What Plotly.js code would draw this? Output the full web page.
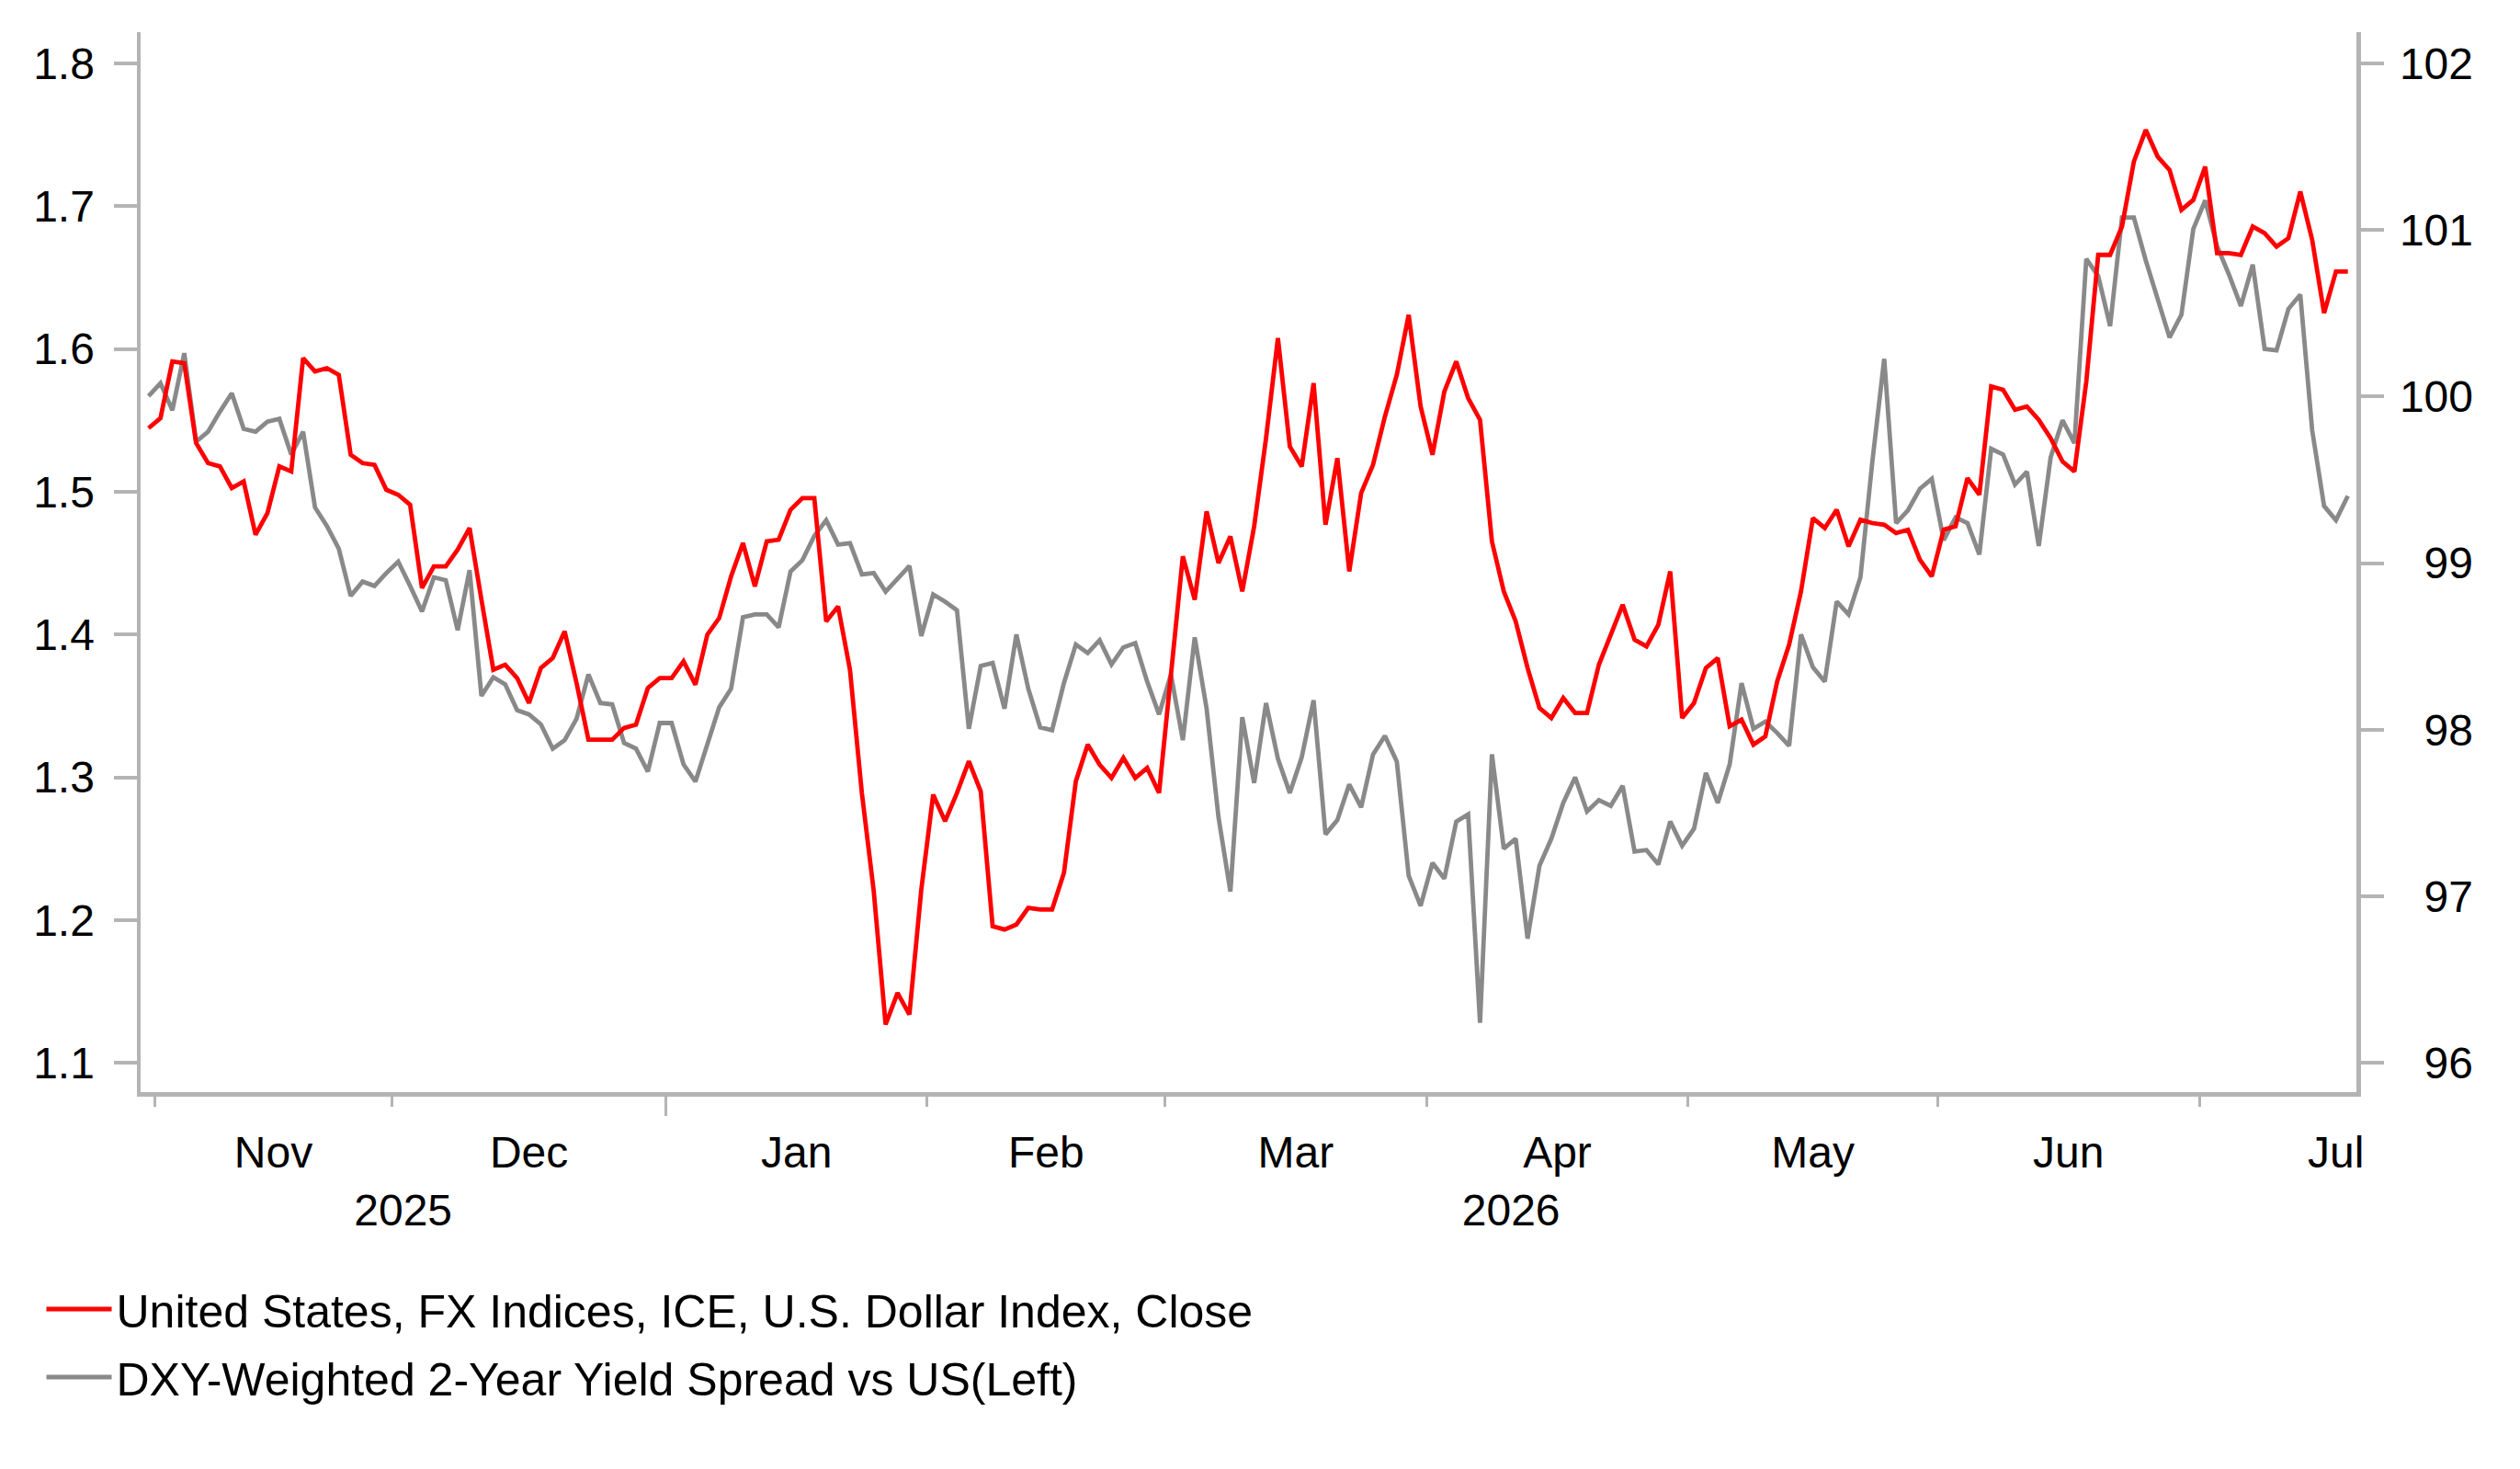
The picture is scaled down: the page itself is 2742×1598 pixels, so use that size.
<!DOCTYPE html>
<html>
<head>
<meta charset="utf-8">
<script src="https://cdn.plot.ly/plotly-3.0.1.min.js"></script>
<style>
html,body{margin:0;padding:0;background:#ffffff;}
#chart{width:2742px;height:1598px;}
</style>
</head>
<body>
<div id="chart"></div>
<script>
// ---------------- DATA ----------------
const startDate = '2025-10-31'; // first trading day shown (weekday series)

const seriesNames = [
  'United States, FX Indices, ICE, U.S. Dollar Index, Close',
  'DXY-Weighted 2-Year Yield Spread vs US(Left)'
];

// ICE U.S. Dollar Index close (right axis)
const dxyClose = [
  99.81, 99.87, 100.21, 100.20, 99.72, 99.60, 99.58, 99.45, 99.49, 99.17,
  99.30, 99.58, 99.55, 100.23, 100.15, 100.17, 100.13, 99.65, 99.60, 99.59,
  99.44, 99.41, 99.35, 98.85, 98.98, 98.98, 99.08,
  99.21, 98.78, 98.36, 98.39, 98.31, 98.16, 98.37, 98.43, 98.59, 98.28,
  97.94, 97.94, 97.94, 98.01, 98.03, 98.25, 98.31, 98.31, 98.41, 98.27,
  98.57, 98.67, 98.92, 99.12, 98.86, 99.13, 99.14,
  99.32, 99.39, 99.39, 98.65, 98.74, 98.36, 97.62, 97.03, 96.23, 96.42,
  96.29, 97.04, 97.61, 97.45, 97.62, 97.81, 97.63, 96.82, 96.80, 96.83,
  96.93, 96.92, 96.92, 97.14, 97.69, 97.91, 97.79,
  97.71, 97.83, 97.71, 97.77, 97.62, 98.33, 99.04, 98.78, 99.31, 99.00,
  99.16, 98.83, 99.22, 99.75, 100.35, 99.70, 99.58, 100.08, 99.23, 99.63,
  98.95, 99.42, 99.59, 99.88, 100.13, 100.49, 99.94,
  99.65, 100.03, 100.21, 99.99, 99.86, 99.13, 98.83, 98.65, 98.37, 98.13,
  98.07, 98.19, 98.10, 98.10, 98.39, 98.57, 98.75, 98.54, 98.50, 98.63,
  98.95, 98.07, 98.16, 98.37, 98.43, 98.02, 98.06,
  97.91, 97.96, 98.29, 98.51, 98.83, 99.27, 99.21, 99.32, 99.10, 99.26,
  99.24, 99.23, 99.18, 99.20, 99.02, 98.92, 99.20, 99.22, 99.51, 99.41,
  100.06, 100.04, 99.92, 99.94, 99.86, 99.75, 99.61,
  99.55, 100.09, 100.85, 100.85, 101.02, 101.41, 101.60, 101.44, 101.36, 101.12,
  101.18, 101.38, 100.86, 100.86, 100.85, 101.02, 100.98, 100.90, 100.95, 101.23,
  100.94, 100.50, 100.75, 100.75
];

// DXY-weighted 2-year yield spread vs US (left axis)
const yieldSpread = [
  1.567, 1.576, 1.557, 1.597, 1.535, 1.542, 1.556, 1.569, 1.544, 1.542,
  1.549, 1.551, 1.526, 1.542, 1.489, 1.476, 1.460, 1.427, 1.437, 1.434,
  1.443, 1.451, 1.434, 1.416, 1.440, 1.438, 1.403,
  1.445, 1.357, 1.370, 1.365, 1.347, 1.344, 1.337, 1.320, 1.326, 1.341,
  1.372, 1.352, 1.351, 1.324, 1.320, 1.304, 1.338, 1.338, 1.309, 1.297,
  1.323, 1.349, 1.362, 1.412, 1.414, 1.414, 1.405,
  1.444, 1.452, 1.469, 1.480, 1.463, 1.464, 1.442, 1.443, 1.430, 1.439,
  1.448, 1.399, 1.428, 1.423, 1.417, 1.334, 1.378, 1.380, 1.348, 1.400,
  1.362, 1.335, 1.333, 1.366, 1.393, 1.387, 1.396,
  1.379, 1.391, 1.394, 1.367, 1.344, 1.372, 1.326, 1.398, 1.348, 1.272,
  1.220, 1.342, 1.296, 1.352, 1.313, 1.289, 1.314, 1.354, 1.260, 1.270,
  1.295, 1.279, 1.316, 1.329, 1.311, 1.231, 1.210,
  1.240, 1.229, 1.269, 1.274, 1.128, 1.316, 1.250, 1.257, 1.187, 1.238,
  1.257, 1.282, 1.300, 1.276, 1.284, 1.280, 1.294, 1.248, 1.249, 1.239,
  1.269, 1.252, 1.264, 1.303, 1.282, 1.309, 1.366,
  1.334, 1.339, 1.331, 1.322, 1.400, 1.377, 1.367, 1.423, 1.414, 1.440,
  1.521, 1.593, 1.478, 1.487, 1.502, 1.509, 1.466, 1.482, 1.478, 1.456,
  1.530, 1.526, 1.505, 1.514, 1.462, 1.524, 1.550,
  1.534, 1.663, 1.651, 1.616, 1.692, 1.692, 1.662, 1.635, 1.608, 1.624,
  1.684, 1.704, 1.672, 1.652, 1.630, 1.659, 1.600, 1.599, 1.628, 1.638,
  1.543, 1.490, 1.480, 1.497
];

const leftTicks = [1.1, 1.2, 1.3, 1.4, 1.5, 1.6, 1.7, 1.8];
const rightTicks = [96, 97, 98, 99, 100, 101, 102];
const monthNames = ['Jan','Feb','Mar','Apr','May','Jun','Jul','Aug','Sep','Oct','Nov','Dec'];

// ---------------- DATE AXIS (trading-day positions) ----------------
function buildWeekdays(start, n) {
  const out = [];
  const d = new Date(start + 'T12:00:00Z');
  while (out.length < n) {
    const wd = d.getUTCDay();
    if (wd !== 0 && wd !== 6) out.push(new Date(d.getTime()));
    d.setUTCDate(d.getUTCDate() + 1);
  }
  return out;
}
function weekdaysInMonth(y, m) {
  let c = 0;
  const d = new Date(Date.UTC(y, m, 1, 12));
  while (d.getUTCMonth() === m) {
    const wd = d.getUTCDay();
    if (wd !== 0 && wd !== 6) c++;
    d.setUTCDate(d.getUTCDate() + 1);
  }
  return c;
}

const dates = buildWeekdays(startDate, yieldSpread.length);
const idx = dates.map((_, i) => i);
const dateText = dates.map(d => d.toISOString().slice(0, 10));

const xRange = [-0.67, dates.length - 1 + 0.72];

const monthTicks = [], monthMids = [], monthLabels = [], yearTicks = [];
for (let i = 1; i < dates.length; i++) {
  const m = dates[i].getUTCMonth(), mp = dates[i - 1].getUTCMonth();
  if (m !== mp) {
    const b = i - 0.5;
    monthTicks.push(b);
    monthMids.push(b + weekdaysInMonth(dates[i].getUTCFullYear(), m) / 2);
    monthLabels.push(monthNames[m]);
    if (m === 0) yearTicks.push(b);
  }
}
const yearEdges = [xRange[0]].concat(yearTicks, [xRange[1]]);
const yearMids = [], yearLabels = [];
for (let k = 0; k < yearEdges.length - 1; k++) {
  yearMids.push((yearEdges[k] + yearEdges[k + 1]) / 2);
  const firstIdx = Math.max(0, Math.ceil(yearEdges[k]));
  yearLabels.push(String(dates[Math.min(firstIdx, dates.length - 1)].getUTCFullYear()));
}

// ---------------- LAYOUT ----------------
const W = 2742, H = 1598;
const M = {l: 153, r: 20, t: 35, b: 410};
const plotRight = 2564;
const paperW = W - M.l - M.r;
const paperH = H - M.t - M.b;
const xDomEnd = (plotRight - M.l) / paperW;
const rightLabelEdge = 2694;

// left/right axes share pixel positions: 1.1 <-> 96, 1.8 <-> 102
const leftRange = [1.0795, 1.8218];
const toRight = v => 96 + (v - 1.1) * (6 / 0.7);
const rightRange = [toRight(leftRange[0]), toRight(leftRange[1])];

const FONT = 'Liberation Sans, Arial, Helvetica, sans-serif';
const AX = '#b4b4b4';
const tickFont = {family: FONT, size: 48, color: '#000000'};

const baseX = {
  domain: [0, xDomEnd], range: xRange, showgrid: false, zeroline: false, fixedrange: true
};

// helper (empty) traces so every overlay axis gets drawn
function axisHolder(xa, ya) {
  return {x: [idx[0]], y: [null], xaxis: xa, yaxis: ya, type: 'scatter', mode: 'lines',
          showlegend: false, hoverinfo: 'skip', legendgroup: 'zz'};
}

const traces = [
  {
    x: idx, y: dxyClose, customdata: dateText,
    name: seriesNames[0], type: 'scatter', mode: 'lines',
    xaxis: 'x', yaxis: 'y2', legendgroup: 'g1',
    line: {color: '#ff0000', width: 4.8},
    hovertemplate: '%{customdata}: %{y}<extra></extra>'
  },
  {
    x: idx, y: yieldSpread, customdata: dateText,
    name: seriesNames[1], type: 'scatter', mode: 'lines',
    xaxis: 'x', yaxis: 'y', legendgroup: 'g2',
    line: {color: '#898989', width: 4.8},
    hovertemplate: '%{customdata}: %{y}<extra></extra>'
  },
  axisHolder('x2', 'y'),
  axisHolder('x3', 'y'),
  axisHolder('x4', 'y'),
  axisHolder('x', 'y3')
];

const layout = {
  width: W, height: H,
  margin: M,
  paper_bgcolor: '#ffffff', plot_bgcolor: '#ffffff',
  font: {family: FONT, size: 48, color: '#000000'},
  showlegend: true,
  legend: {
    orientation: 'v', x: (45.5 - M.l) / paperW, xanchor: 'left',
    y: 1 - (1385 - M.t) / paperH, yanchor: 'top',
    font: {family: FONT, size: 50, color: '#000000'},
    bgcolor: 'rgba(0,0,0,0)', borderwidth: 0,
    traceorder: 'grouped', tracegroupgap: 6, itemwidth: 71
  },
  xaxis: Object.assign({}, baseX, {
    tickmode: 'array', tickvals: monthTicks, showticklabels: false,
    ticks: 'outside', ticklen: 11, tickwidth: 3, tickcolor: AX,
    showline: true, linewidth: 4.5, linecolor: AX
  }),
  xaxis2: Object.assign({}, baseX, {
    overlaying: 'x', anchor: 'y', side: 'bottom',
    tickmode: 'array', tickvals: yearTicks, showticklabels: false,
    ticks: 'outside', ticklen: 25, tickwidth: 3.5, tickcolor: AX, showline: false
  }),
  xaxis3: Object.assign({}, baseX, {
    overlaying: 'x', anchor: 'y', side: 'bottom',
    tickmode: 'array', tickvals: monthMids, ticktext: monthLabels, tickangle: 0,
    ticks: '', showline: false, tickfont: tickFont, ticklabelstandoff: 33
  }),
  xaxis4: Object.assign({}, baseX, {
    overlaying: 'x', anchor: 'y', side: 'bottom',
    tickmode: 'array', tickvals: yearMids, ticktext: yearLabels, tickangle: 0,
    ticks: '', showline: false, tickfont: tickFont, ticklabelstandoff: 96
  }),
  yaxis: {
    domain: [0, 1], range: leftRange, tickmode: 'array', tickvals: leftTicks,
    tickformat: '.1f', ticks: 'outside', ticklen: 25, tickwidth: 4, tickcolor: AX,
    showline: true, linewidth: 4.5, linecolor: AX, showgrid: false, zeroline: false,
    tickfont: tickFont, ticklabelstandoff: 11, fixedrange: true
  },
  yaxis2: {
    overlaying: 'y', side: 'right', anchor: 'x', range: rightRange,
    tickmode: 'array', tickvals: rightTicks, showticklabels: false,
    ticks: 'outside', ticklen: 25, tickwidth: 4, tickcolor: AX,
    showline: true, linewidth: 4.5, linecolor: AX, showgrid: false, zeroline: false, fixedrange: true
  },
  yaxis3: {
    overlaying: 'y', side: 'right', anchor: 'free',
    position: (rightLabelEdge - M.l) / paperW, range: rightRange,
    tickmode: 'array', tickvals: rightTicks, ticklabelposition: 'inside',
    ticks: '', showline: false, showgrid: false, zeroline: false,
    tickfont: tickFont, fixedrange: true
  }
};

Plotly.newPlot('chart', traces, layout, {displayModeBar: false, staticPlot: true});
</script>
</body>
</html>
